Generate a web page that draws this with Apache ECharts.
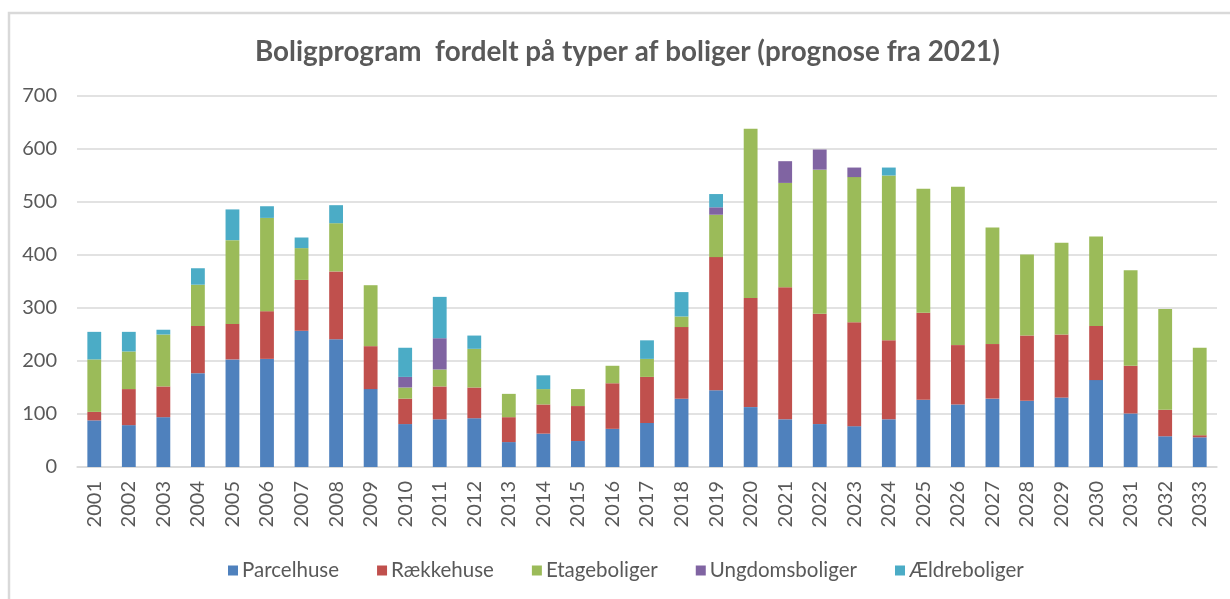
<!DOCTYPE html>
<html>
<head>
<meta charset="utf-8">
<script src="https://cdn.jsdelivr.net/npm/echarts@6/dist/echarts.min.js"></script>
<style>
  html, body { margin: 0; padding: 0; background: #fff; }
  #chart { width: 1230px; height: 599px; }
</style>
</head>
<body>
<div id="chart"></div>
<script>
// data
var years = ['2001','2002','2003','2004','2005','2006','2007','2008','2009','2010','2011',
             '2012','2013','2014','2015','2016','2017','2018','2019','2020','2021','2022',
             '2023','2024','2025','2026','2027','2028','2029','2030','2031','2032','2033'];

var parcelhuse = [88,79,94,177,203,204,257,241,147,81,90,92,47,63,49,72,83,129,145,113,90,81,77,90,127,118,129,125,131,164,101,58,56];
var raekkehuse = [16,68,58,89,67,90,96,128,81,48,62,58,47,55,66,86,87,135,251,206,249,208,196,149,164,112,103,123,119,102,90,50,4];
var etageboliger = [99,71,98,78,158,176,60,91,115,21,32,73,44,29,32,33,34,20,80,319,197,272,274,311,234,299,220,153,173,169,180,190,165];
var ungdomsboliger = [0,0,0,0,0,0,0,0,0,20,59,0,0,0,0,0,0,0,14,0,41,38,18,0,0,0,0,0,0,0,0,0,0];
var aeldreboliger = [52,37,9,31,58,22,20,34,0,55,78,25,0,26,0,0,35,46,25,0,0,0,0,15,0,0,0,0,0,0,0,0,0];

var seriesNames = ['Parcelhuse', 'Rækkehuse', 'Etageboliger', 'Ungdomsboliger', 'Ældreboliger'];
var seriesData = [parcelhuse, raekkehuse, etageboliger, ungdomsboliger, aeldreboliger];
var colors = ['#4F81BD', '#C0504D', '#9BBB59', '#8064A2', '#4BACC6'];

var textColor = '#595959';
var font = 'Lato, "Open Sans", sans-serif';

var chart = echarts.init(document.getElementById('chart'));

var option = {
    animation: false,
    color: colors,
    title: {
        text: 'Boligprogram  fordelt på typer af boliger (prognose fra 2021)',
        left: 250,
        top: 33,
        textStyle: { color: textColor, fontSize: 27.8, fontWeight: 'bold', fontFamily: font }
    },
    graphic: [{
        type: 'rect',
        shape: { x: 9, y: 13, width: 1240, height: 620 },
        style: { fill: 'none', stroke: '#d9d9d9', lineWidth: 2.5 },
        silent: true
    }],
    legend: {
        data: seriesNames,
        bottom: 13,
        left: 223,
        icon: 'rect',
        itemWidth: 10,
        itemHeight: 10,
        itemGap: 38,
        textStyle: { color: textColor, fontSize: 20.5, fontFamily: font, padding: [0, 0, 0, -1] }
    },
    grid: { left: 77, right: 13, top: 96, bottom: 132 },
    xAxis: {
        type: 'category',
        data: years,
        axisTick: { show: false },
        axisLine: { lineStyle: { color: '#d9d9d9', width: 1.5 } },
        axisLabel: { rotate: 90, margin: 14, color: textColor, fontSize: 20, fontFamily: font }
    },
    yAxis: {
        type: 'value',
        min: 0,
        max: 700,
        interval: 100,
        axisLine: { show: false },
        axisTick: { show: false },
        splitLine: { lineStyle: { color: '#d9d9d9', width: 1.5 } },
        axisLabel: { margin: 20, color: textColor, fontSize: 20, fontFamily: font }
    },
    series: seriesNames.map(function (name, i) {
        return {
            name: name,
            type: 'bar',
            stack: 'total',
            barWidth: '40%',
            data: seriesData[i]
        };
    })
};

chart.setOption(option);
</script>
</body>
</html>
